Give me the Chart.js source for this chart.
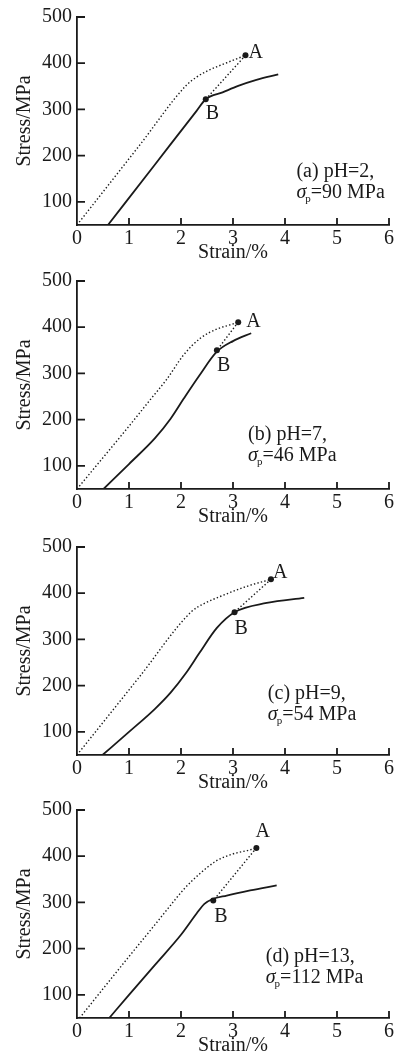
<!DOCTYPE html>
<html>
<head>
<meta charset="utf-8">
<script src="https://cdn.jsdelivr.net/npm/chart.js@4.4.1/dist/chart.umd.min.js"></script>
<style>
    body { margin: 0; background: #fff; }
    .panel { position: absolute; left: 0; width: 396px; height: 265px; }
</style>
</head>
<body>
<div class="panel" style="top:0px"><canvas id="ph2"></canvas></div>
<div class="panel" style="top:264px"><canvas id="ph7"></canvas></div>
<div class="panel" style="top:530px"><canvas id="ph9"></canvas></div>
<div class="panel" style="top:793px"><canvas id="ph13"></canvas></div>
<script>
    "use strict";

    // axis ticks
    var strainTicks = [0, 1, 2, 3, 4, 5, 6];
    var stressTicks = [100, 200, 300, 400, 500];

    // (a) pH=2
    var ph2SolidStrain = [0.595, 1.5, 2.3, 2.476, 2.8, 3.1, 3.45, 3.87];
    var ph2SolidStress = [50, 181, 297, 322, 337, 351, 364, 376];
    var ph2DotStrain = [0, 1.2, 2.1, 2.3, 2.5, 2.88, 3.24];
    var ph2DotStress = [50, 222, 352, 370, 383, 401, 417];
    var ph2A = [3.24, 417];
    var ph2B = [2.476, 322];

    // (b) pH=7
    var ph7SolidStrain = [0.51, 1.0, 1.5, 1.8, 2.05, 2.35, 2.69, 3.0, 3.35];
    var ph7SolidStress = [50, 104, 160, 202, 245, 295, 347, 370, 387];
    var ph7DotStrain = [0, 1.0, 1.4, 1.73, 2.05, 2.37, 2.69, 2.94, 3.1];
    var ph7DotStress = [50, 186, 242, 288, 340, 376, 396, 405, 411];
    var ph7A = [3.1, 411];
    var ph7B = [2.69, 350];

    // (c) pH=9
    var ph9SolidStrain = [0.49, 1.0, 1.5, 1.8, 2.1, 2.35, 2.69, 3.03, 3.65, 4.37];
    var ph9SolidStress = [50, 100, 150, 185, 228, 270, 325, 359, 379, 390];
    var ph9DotStrain = [0, 1.2, 2.2, 2.45, 2.69, 3.27, 3.73];
    var ph9DotStress = [50, 219, 360, 378, 390, 415, 430];
    var ph9A = [3.73, 430];
    var ph9B = [3.03, 359];

    // (d) pH=13
    var ph13SolidStrain = [0.62, 1.0, 1.5, 2.0, 2.3, 2.45, 2.6, 2.88, 3.33, 3.84];
    var ph13SolidStress = [50, 100, 165, 230, 276, 297, 307, 315, 326, 337];
    var ph13DotStrain = [0.05, 1.0, 1.5, 1.8, 2.05, 2.36, 2.68, 3.0, 3.3, 3.45];
    var ph13DotStress = [50, 183, 252, 294, 328, 362, 390, 405, 413, 418];
    var ph13A = [3.45, 418];
    var ph13B = [2.62, 304];

    var ink = '#1a1a1a';
    var family = '"Liberation Serif", "Times New Roman", serif';
    var font = { family: family, size: 20 };

    function pts(xs, ys) {
        return xs.map(function (x, i) { return { x: x, y: ys[i] }; });
    }

    // panel extras: note text, where it sits (data units) and label offsets (px)
    var panels = [
        { id: 'ph2', solid: pts(ph2SolidStrain, ph2SolidStress), dot: pts(ph2DotStrain, ph2DotStress),
          A: ph2A, B: ph2B, note: '(a) pH=2,', sigma: '=90 MPa', noteAt: [4.22, 154], aOff: [3, 3], bOff: [0, 20] },
        { id: 'ph7', solid: pts(ph7SolidStrain, ph7SolidStress), dot: pts(ph7DotStrain, ph7DotStress),
          A: ph7A, B: ph7B, note: '(b) pH=7,', sigma: '=46 MPa', noteAt: [3.29, 157], aOff: [8, 5], bOff: [0, 21] },
        { id: 'ph9', solid: pts(ph9SolidStrain, ph9SolidStress), dot: pts(ph9DotStrain, ph9DotStress),
          A: ph9A, B: ph9B, note: '(c) pH=9,', sigma: '=54 MPa', noteAt: [3.67, 172], aOff: [2, -1], bOff: [0, 22] },
        { id: 'ph13', solid: pts(ph13SolidStrain, ph13SolidStress), dot: pts(ph13DotStrain, ph13DotStress),
          A: ph13A, B: ph13B, note: '(d) pH=13,', sigma: '=112 MPa', noteAt: [3.63, 172], aOff: [-1, -11], bOff: [1, 21] }
    ];

    // inward tick marks, point letters and the pH note
    var decor = {
        id: 'decor',
        afterDraw: function (chart, args, opts) {
            var p = opts.panel;
            var ctx = chart.ctx;
            var xs = chart.scales.x, ys = chart.scales.y;
            var area = chart.chartArea;
            ctx.save();
            ctx.strokeStyle = ink;
            ctx.lineWidth = 1.8;
            ctx.beginPath();
            strainTicks.forEach(function (v) {
                if (v === 0) return;
                var px = xs.getPixelForValue(v);
                ctx.moveTo(px, area.bottom);
                ctx.lineTo(px, area.bottom - 7);
            });
            stressTicks.forEach(function (v) {
                var py = ys.getPixelForValue(v);
                ctx.moveTo(area.left, py);
                ctx.lineTo(area.left + 8, py);
            });
            ctx.stroke();

            ctx.fillStyle = ink;
            ctx.textBaseline = 'alphabetic';
            ctx.textAlign = 'left';
            ctx.font = '20px ' + family;
            var ax = xs.getPixelForValue(p.A[0]), ay = ys.getPixelForValue(p.A[1]);
            ctx.fillText('A', ax + p.aOff[0], ay + p.aOff[1]);
            var bx = xs.getPixelForValue(p.B[0]), by = ys.getPixelForValue(p.B[1]);
            ctx.fillText('B', bx + p.bOff[0], by + p.bOff[1]);

            var nx = xs.getPixelForValue(p.noteAt[0]);
            var ny = ys.getPixelForValue(p.noteAt[1]);
            ctx.fillText(p.note, nx, ny);
            var y2 = ny + 21;
            ctx.font = 'italic 20px ' + family;
            ctx.fillText('\u03c3', nx, y2);
            var w = ctx.measureText('\u03c3').width;
            ctx.font = '11px ' + family;
            ctx.fillText('p', nx + w - 1, y2 + 4);
            var w2 = ctx.measureText('p').width;
            ctx.font = '20px ' + family;
            ctx.fillText(p.sigma, nx + w + w2 - 1, y2);
            ctx.restore();
        }
    };

    panels.forEach(function (p) {
        new Chart(document.getElementById(p.id), {
            type: 'line',
            data: {
                datasets: [{
                    data: p.solid,
                    borderColor: ink,
                    borderWidth: 1.8,
                    pointRadius: 0,
                    cubicInterpolationMode: 'monotone'
                }, {
                    data: p.dot,
                    borderColor: ink,
                    borderWidth: 1.4,
                    borderDash: [1.4, 2.2],
                    pointRadius: 0,
                    cubicInterpolationMode: 'monotone'
                }, {
                    data: [{ x: p.A[0], y: p.A[1] }, { x: p.B[0], y: p.B[1] }],
                    borderColor: ink,
                    borderWidth: 1.4,
                    borderDash: [1.4, 2.2],
                    pointRadius: 0
                }, {
                    data: [{ x: p.A[0], y: p.A[1] }, { x: p.B[0], y: p.B[1] }],
                    showLine: false,
                    pointRadius: 3,
                    pointBorderWidth: 0,
                    pointBackgroundColor: ink
                }]
            },
            options: {
                animation: false,
                responsive: true,
                maintainAspectRatio: false,
                layout: { padding: { top: 16, right: 6, left: 0, bottom: 0 } },
                plugins: {
                    legend: { display: false },
                    tooltip: { enabled: false },
                    decor: { panel: p }
                },
                scales: {
                    x: {
                        type: 'linear',
                        min: 0,
                        max: 6,
                        afterBuildTicks: function (s) { s.ticks = strainTicks.map(function (v) { return { value: v }; }); },
                        afterFit: function (s) { s.height = 40; },
                        grid: { drawOnChartArea: false, drawTicks: false },
                        border: { color: ink, width: 1.8 },
                        ticks: { color: ink, font: font, padding: 2, maxRotation: 0 },
                        title: { display: true, text: 'Strain/%', color: ink, font: font, padding: 0 }
                    },
                    y: {
                        type: 'linear',
                        min: 50,
                        max: 500,
                        afterBuildTicks: function (s) { s.ticks = stressTicks.map(function (v) { return { value: v }; }); },
                        afterFit: function (s) { s.width = 77; },
                        grid: { drawOnChartArea: false, drawTicks: false },
                        border: { color: ink, width: 1.8 },
                        ticks: { color: ink, font: font, padding: 5 },
                        title: { display: true, text: 'Stress/MPa', color: ink, font: font, padding: { top: 13, bottom: 0 } }
                    }
                }
            },
            plugins: [decor]
        });
    });
</script>
</body>
</html>
